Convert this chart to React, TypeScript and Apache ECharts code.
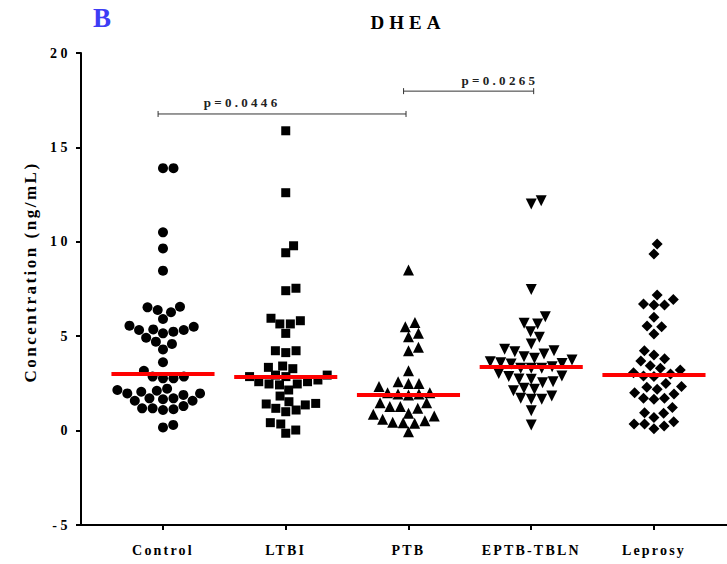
import React, { useEffect, useRef } from 'react';
import * as echarts from 'echarts';

const categories = ['Control', 'LTBI', 'PTB', 'EPTB-TBLN', 'Leprosy'];
const yTicks = [-5, 0, 5, 10, 15, 20];

const control = [13.9, 13.9, 10.5, 9.65, 8.47, 6.53, 6.27, 6.39, 6.56, 5.91, 5.5, 5.33, 5.24, 5.56, 5.15, 5.33, 5.36, 4.92, 4.71, 4.3, 4.59, 3.62, 3.17, 2.86, 2.77, 2.77, 2.86, 2.22, 2.11, 1.97, 1.89, 1.97, 2.06, 2.15, 1.66, 1.58, 1.71, 1.71, 1.58, 1.18, 1.13, 1.09, 1.18, 1.3, 0.17, 0.3];
const ltbi = [15.88, 12.6, 9.79, 9.42, 7.54, 7.41, 5.82, 5.95, 5.65, 5.65, 5.15, 4.23, 4.13, 4.23, 3.35, 3.28, 3.42, 2.94, 2.86, 2.94, 2.86, 2.59, 2.47, 2.42, 2.47, 2.59, 2.68, 2.15, 1.83, 1.44, 1.36, 1.09, 1.0, 1.53, 1.18, 1.41, 0.35, -0.14, 0.03, 0.42];
const ptb = [8.5, 5.5, 5.72, 4.97, 5.15, 4.23, 4.41, 3.17, 2.59, 2.5, 2.5, 2.33, 2.01, 1.94, 1.89, 1.94, 2.01, 1.48, 1.48, 1.27, 1.18, 1.27, 0.86, 0.77, 0.92, 0.52, 0.42, 0.39, 0.44, 0.6, -0.06];
const eptb = [12.18, 12.0, 7.48, 6.03, 5.65, 5.68, 5.24, 4.94, 4.59, 4.31, 4.18, 4.23, 4.06, 3.91, 3.83, 3.65, 3.56, 3.74, 3.6, 3.53, 3.38, 3.3, 3.3, 3.3, 3.03, 2.86, 2.72, 2.54, 2.59, 2.73, 2.89, 2.19, 1.83, 1.66, 1.66, 1.71, 2.11, 2.24, 1.05, 0.3];
const leprosy = [9.88, 9.35, 7.18, 6.65, 6.65, 6.95, 6.7, 6.0, 5.5, 5.54, 5.12, 4.23, 4.0, 3.69, 3.81, 3.3, 3.07, 2.89, 2.86, 3.0, 3.21, 3.44, 2.5, 2.29, 2.33, 2.19, 2.01, 1.94, 1.71, 1.71, 1.66, 1.23, 0.95, 0.92, 0.7, 0.47, 0.35, 0.1, 0.24, 0.35];
const groups = [control, ltbi, ptb, eptb, leprosy];

const medians = [3.0, 2.86, 1.89, 3.38, 2.94];
const pLabels = ['p=0.0446', 'p=0.0265'];
// [x start, x end, y level, label x]
const brackets = [
  [0.96, 2.98, 16.77, 1.644],
  [2.96, 4.02, 17.98, 3.745],
];

const W = 727;
const H = 564;
const GRID_LEFT = 81;
const GRID_TOP = 53;
const GRID_BOTTOM = 39;
const X_MIN = 0.332;
const X_MAX = 5.595;
const Y_MIN = -5;
const Y_MAX = 20;
const FONT = '"Liberation Serif", "Times New Roman", serif';

const symbols = ['circle', 'rect', 'triangle', 'triangle', 'diamond'];
const sizes = [10, 9, 11, 11, 11];
const rotates = [0, 0, 0, 180, 0];

function swarmOffsets(values: number[], diam: number): number[] {
  const pxX = (W - GRID_LEFT) / (X_MAX - X_MIN);
  const pxY = (H - GRID_TOP - GRID_BOTTOM) / (Y_MAX - Y_MIN);
  const order = values.map((_, i) => i).sort((a, b) => values[a] - values[b]);
  const placed: { x: number; y: number }[] = [];
  const out = new Array(values.length).fill(0);
  for (const i of order) {
    const y = values[i] * pxY;
    const cands = [0];
    for (const q of placed) {
      const dy = Math.abs(y - q.y);
      if (dy < diam) {
        const dx = Math.sqrt(diam * diam - dy * dy);
        cands.push(q.x + dx + 0.01, q.x - dx - 0.01);
      }
    }
    cands.sort((a, b) => Math.abs(a) - Math.abs(b));
    let chosen = 0;
    for (const c of cands) {
      if (placed.every((q) => (c - q.x) ** 2 + (y - q.y) ** 2 >= diam * diam - 0.001)) {
        chosen = c;
        break;
      }
    }
    placed.push({ x: chosen, y });
    out[i] = chosen / pxX;
  }
  return out;
}

function spacingFor(t: string): number {
  if (t === 'B') return 0;
  if (t === 'DHEA') return 5;
  if (/^-?\d+$/.test(t)) return 3.5;
  if (t.startsWith('p=')) return 3.3;
  if (t.startsWith('Concentration')) return 2.5;
  return 2.2;
}

export default function App() {
  const ref = useRef<HTMLDivElement>(null);
  useEffect(() => {
    if (!ref.current) return;
    const root = ref.current;
    const chart = echarts.init(root, undefined, { renderer: 'svg' });
    const applySpacing = () => {
      root.querySelectorAll('text').forEach((el) => {
        const s = spacingFor((el.textContent || '').trim());
        if (s) el.setAttribute('letter-spacing', String(s));
      });
    };
    chart.on('finished', applySpacing);
    const scatterSeries = groups.map((vals, gi) => {
      const offs = swarmOffsets(vals, 10.5);
      const c = gi + 1;
      return {
        type: 'scatter',
        name: categories[gi],
        symbol: symbols[gi],
        symbolSize: sizes[gi],
        symbolRotate: rotates[gi],
        itemStyle: { color: '#000', opacity: 1 },
        data: vals.map((v, i) => [c + offs[i], v]),
        z: 3,
        markLine: {
          silent: true,
          symbol: 'none',
          label: { show: false },
          lineStyle: { color: '#ff0000', width: 4, type: 'solid' },
          data: [[{ coord: [c - 0.42, medians[gi]] }, { coord: [c + 0.42, medians[gi]] }]],
        },
      };
    });
    const option: any = {
      animation: false,
      grid: { left: GRID_LEFT, right: 0, top: GRID_TOP, bottom: GRID_BOTTOM, containLabel: false },
      xAxis: {
        type: 'value',
        min: X_MIN,
        max: X_MAX,
        splitLine: { show: false },
        axisLine: { onZero: false, lineStyle: { color: '#000', width: 2 } },
        axisTick: { show: true, customValues: [1, 2, 3, 4, 5], length: 5, lineStyle: { color: '#000', width: 2 } },
        axisLabel: {
          customValues: [1, 2, 3, 4, 5],
          formatter: (v: number) => categories[Math.round(v) - 1] ?? '',
          color: '#000',
          fontWeight: 'bold',
          fontFamily: FONT,
          fontSize: 14,
          margin: 18,
        },
      },
      yAxis: {
        type: 'value',
        min: Y_MIN,
        max: Y_MAX,
        interval: 5,
        splitLine: { show: false },
        axisLine: { show: true, onZero: false, lineStyle: { color: '#000', width: 2 } },
        axisTick: { show: true, length: 5, lineStyle: { color: '#000', width: 2 } },
        axisLabel: {
          formatter: (v: number) => (yTicks.includes(v) ? String(v) : ''),
          color: '#000',
          fontWeight: 'bold',
          fontFamily: FONT,
          fontSize: 14,
          margin: 10,
        },
      },
      graphic: [
        {
          type: 'text',
          x: 102,
          y: 18,
          style: { text: 'B', fill: '#3d3df5', font: `bold 27px ${FONT}`, align: 'center', verticalAlign: 'middle' },
        },
        {
          type: 'text',
          x: 408,
          y: 22,
          style: { text: 'DHEA', fill: '#000', font: `bold 19px ${FONT}`, align: 'center', verticalAlign: 'middle' },
        },
        {
          type: 'text',
          x: 30,
          y: 272,
          rotation: Math.PI / 2,
          style: {
            text: 'Concentration (ng/mL)',
            fill: '#000',
            font: `bold 17px ${FONT}`,
            align: 'center',
            verticalAlign: 'middle',
          },
        },
      ],
      series: [
        ...scatterSeries,
        {
          type: 'custom',
          data: brackets,
          encode: { x: [0, 1], y: 2 },
          clip: false,
          silent: true,
          z: 5,
          renderItem: (params: any, api: any) => {
            const x1 = api.value(0);
            const x2 = api.value(1);
            const y = api.value(2);
            const lx = api.value(3);
            const a = api.coord([x1, y]);
            const b = api.coord([x2, y]);
            const t = api.coord([lx, y]);
            const ls = { stroke: '#333', lineWidth: 1 };
            return {
              type: 'group',
              children: [
                { type: 'line', shape: { x1: a[0], y1: a[1], x2: b[0], y2: b[1] }, style: ls },
                { type: 'line', shape: { x1: a[0], y1: a[1] - 3, x2: a[0], y2: a[1] + 3 }, style: ls },
                { type: 'line', shape: { x1: b[0], y1: b[1] - 3, x2: b[0], y2: b[1] + 3 }, style: ls },
                {
                  type: 'text',
                  x: t[0],
                  y: t[1] - 11,
                  style: {
                    text: pLabels[params.dataIndex],
                    fill: '#222',
                    font: `bold 13px ${FONT}`,
                    align: 'center',
                    verticalAlign: 'middle',
                  },
                },
              ],
            };
          },
        },
      ],
    };
    chart.setOption(option);
    applySpacing();
    const timer = setTimeout(applySpacing, 50);
    return () => {
      clearTimeout(timer);
      chart.dispose();
    };
  }, []);
  return (
    <div
      ref={ref}
      style={{ position: 'fixed', left: 0, top: 0, width: W, height: H, background: '#fff' }}
    />
  );
}
